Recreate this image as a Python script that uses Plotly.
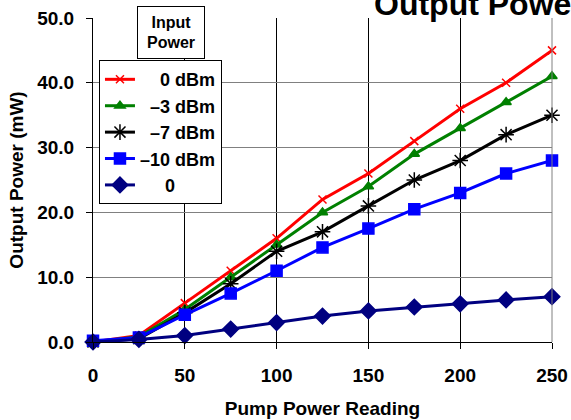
import plotly.graph_objects as go

pump = [0, 25, 50, 75, 100, 125, 150, 175, 200, 225, 250]
p_0dbm = [0, 1.0, 6.0, 11.0, 16.0, 22.0, 26.0, 31.0, 36.0, 40.0, 45.0]
p_m3dbm = [0, 0.8, 5.0, 10.0, 15.0, 20.0, 24.0, 29.0, 33.0, 37.0, 41.0]
p_m7dbm = [0, 0.5, 4.5, 9.0, 14.0, 17.0, 21.0, 25.0, 28.0, 32.0, 35.0]
p_m10dbm = [0.2, 0.7, 4.2, 7.5, 11.0, 14.6, 17.5, 20.5, 23.0, 26.0, 28.0]
p_zero = [0, 0.4, 1.0, 2.0, 3.0, 4.0, 4.8, 5.4, 5.9, 6.5, 7.0]

names = ["\u00a0\u00a0\u00a0\u00a00 dBm", "\u00a0\u00a0–3 dBm", "\u00a0\u00a0–7 dBm", "–10 dBm", "\u00a0\u00a0\u00a0\u00a0\u00a00"]
series = [p_0dbm, p_m3dbm, p_m7dbm, p_m10dbm, p_zero]
colors = ["#FF0000", "#008000", "#000000", "#0000FF", "#000080"]
symbols = ["x-thin-open", "triangle-up", "asterisk-open", "square", "diamond"]
sizes = [8, 9, 13, 11, 12]

FONT = "Liberation Sans, Arial, sans-serif"
AX = dict(family=FONT, size=19, color="black", weight="bold")

fig = go.Figure()
for i, (nm, ys, c, s, sz) in enumerate(zip(names, series, colors, symbols, sizes)):
    fig.add_trace(go.Scatter(
        x=pump, y=ys, name=nm, mode="lines+markers",
        line=dict(color=c, width=3),
        marker=dict(symbol=s, size=sz, color=c, line=dict(color=c, width=1.5)),
        cliponaxis=False,
    ))

fig.update_layout(
    width=571, height=420,
    margin=dict(l=93, r=19, t=18, b=78, autoexpand=False),
    paper_bgcolor="white", plot_bgcolor="white",
    font=dict(family=FONT, size=17, color="black", weight="bold"),
    showlegend=True,
    legend=dict(
        x=0.013, y=0.870, xanchor="left", yanchor="top",
        bgcolor="white", bordercolor="black", borderwidth=1,
        font=dict(family=FONT, size=18, color="black", weight="bold"),
        traceorder="normal",
    ),
    xaxis=dict(
        range=[0, 250], tickvals=[0, 50, 100, 150, 200, 250],
        showgrid=True, gridcolor="black", gridwidth=1,
        showline=True, linecolor="black", linewidth=1,
        ticks="outside", ticklen=6, tickcolor="black",
        zeroline=False, ticklabelstandoff=10, automargin=False,
        tickfont=AX,
        title=dict(text="Pump Power Reading", standoff=16, font=AX),
    ),
    yaxis=dict(
        range=[0, 50], tickvals=[0, 10, 20, 30, 40, 50], tickformat=".1f",
        showgrid=True, gridcolor="#808080", gridwidth=1,
        showline=True, linecolor="black", linewidth=1,
        ticks="outside", ticklen=6, tickcolor="black",
        zeroline=False, ticklabelstandoff=8, automargin=False,
        tickfont=AX,
        title=dict(text="Output Power (mW)", standoff=8, font=AX),
    ),
    shapes=[
        dict(type="line", xref="paper", yref="paper", x0=1, x1=1, y0=0, y1=1,
             line=dict(color="#808080", width=1), layer="above"),
    ],
    annotations=[
        dict(text="Output Power", xref="paper", yref="paper",
             x=(372 - 93) / 459, y=(342 - 4) / 324, xanchor="left", yanchor="middle", showarrow=False,
             font=dict(family=FONT, size=32, color="black", weight="bold")),
        dict(text="Input<br>Power", xref="paper", yref="paper",
             x=(171 - 93) / 459, y=(342 - 33) / 324, xanchor="center", yanchor="middle",
             showarrow=False, bgcolor="white", bordercolor="black", borderwidth=1,
             borderpad=5, width=56, height=41,
             font=dict(family=FONT, size=16, color="black", weight="bold")),
    ],
)

fig.write_html("out.html", config={"displayModeBar": False})
with open("out.html", encoding="utf-8") as f:
    html = f.read()
html = html.replace("<head>", "<head><style>html,body{margin:0;padding:0;}</style>", 1)
with open("out.html", "w", encoding="utf-8") as f:
    f.write(html)
